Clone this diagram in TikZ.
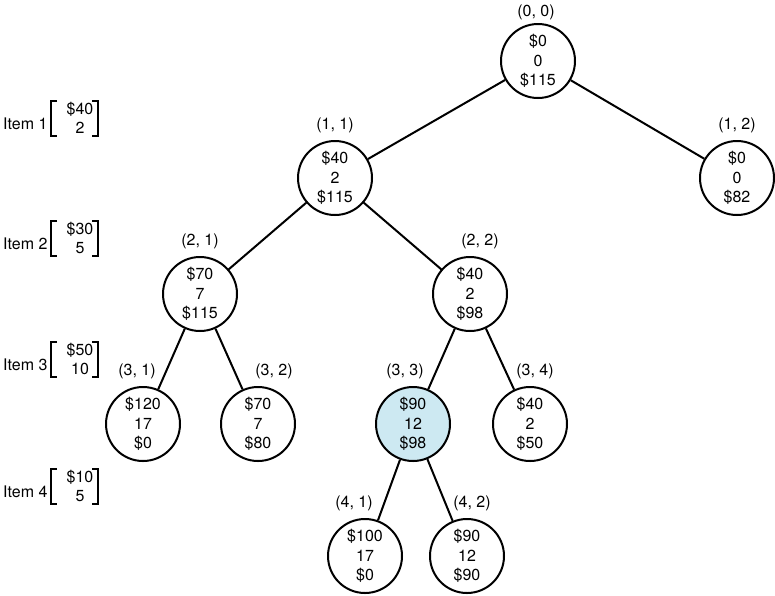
\documentclass[tikz,border=0pt]{standalone}
\usepackage{fontspec}
\setmainfont{TeX Gyre Heros}
\usetikzlibrary{positioning}
\definecolor{col1}{RGB}{205,233,242}
\tikzstyle{state}=[draw, circle, line width=2pt, minimum size=74pt, inner sep=0pt, align=center]
\tikzstyle{best}=[state, fill=col1]
\tikzstyle{branch}=[draw, line width=2pt]
\tikzstyle{item}=[anchor=west, inner sep=0pt]
\tikzstyle{val}=[inner sep=0pt, align=center]
\tikzstyle{brkbox}=[inner sep=0pt, outer sep=0pt, minimum width=47pt, minimum height=35pt]
\tikzstyle{brk}=[draw, line width=1.2pt]

\begin{document}
\begin{tikzpicture}[x=1pt,y=-1pt,on grid,font=\fontsize{16}{19.5}\selectfont,label distance=6.5pt,every label/.style={inner sep=0pt}]
		    \useasboundingbox (0,0) rectangle (775,595);
		    % tree
		    \node [state,label={[xshift=-2pt,label distance=2.5pt]above:{(0, 0)}}] (a) at (538,61) {\$0\\0\\\$115};
		    \node [state,label={above:{(1, 1)}}] (b) [below left=117pt and 203pt of a] {\$40\\2\\\$115};
		    \node [state,label={above:{(1, 2)}}] (c) [below right=117pt and 199pt of a] {\$0\\0\\\$82};
		    \node [state,label={above:{(2, 1)}}] (d) [below left=116pt and 135pt of b] {\$70\\7\\\$115};
		    \node [state,label={[xshift=10pt]above:{(2, 2)}}] (e) [below right=116pt and 135pt of b] {\$40\\2\\\$98};
		    \node [state,label={[xshift=-6pt]above:{(3, 1)}}] (f) [below left=130pt and 57pt of d] {\$120\\17\\\$0};
		    \node [state,label={[xshift=16pt]above:{(3, 2)}}] (g) [below right=130pt and 58pt of d] {\$70\\7\\\$80};
		    \node [best,label={[xshift=-8pt]above:{(3, 3)}}] (h) [below left=130pt and 57pt of e] {\$90\\12\\\$98};
		    \node [state,label={[xshift=5pt]above:{(3, 4)}}] (i) [below right=130pt and 60pt of e] {\$40\\2\\\$50};
		    \node [state,label={[xshift=-11pt]above:{(4, 1)}}] (j) [below left=132pt and 48pt of h] {\$100\\17\\\$0};
		    \node [state,label={[xshift=5pt]above:{(4, 2)}}] (k) [below right=132pt and 54pt of h] {\$90\\12\\\$90};
		    \path[branch]
		    (a) edge (b)
		    (a) edge (c)
		    (b) edge (d)
		    (b) edge (e)
		    (d) edge (f)
		    (d) edge (g)
		    (e) edge (h)
		    (e) edge (i)
		    (h) edge (j)
		    (h) edge (k);
		    % items
		    \node [item] (t1) at (3,123.5) {Item 1};
		    \node [val] (v1) at (80,118) {\$40\\2};
		    \node [brkbox] (k1) at (74.5,118.5) {};
		    \node [item] (t2) at (3,243.5) {Item 2};
		    \node [val] (v2) at (80,238) {\$30\\5};
		    \node [brkbox] (k2) at (74.5,238.5) {};
		    \node [item] (t3) at (3,364.5) {Item 3};
		    \node [val] (v3) at (80,359) {\$50\\10};
		    \node [brkbox] (k3) at (74.5,359.5) {};
		    \node [item] (t4) at (3,491.5) {Item 4};
		    \node [val] (v4) at (80,486) {\$10\\5};
		    \node [brkbox] (k4) at (74.5,486.5) {};
		    \draw [brk] ([xshift=6pt]k1.north west) -- (k1.north west) -- (k1.south west) -- ([xshift=6pt]k1.south west);
		    \draw [brk] ([xshift=-6pt]k1.north east) -- (k1.north east) -- (k1.south east) -- ([xshift=-6pt]k1.south east);
		    \draw [brk] ([xshift=6pt]k2.north west) -- (k2.north west) -- (k2.south west) -- ([xshift=6pt]k2.south west);
		    \draw [brk] ([xshift=-6pt]k2.north east) -- (k2.north east) -- (k2.south east) -- ([xshift=-6pt]k2.south east);
		    \draw [brk] ([xshift=6pt]k3.north west) -- (k3.north west) -- (k3.south west) -- ([xshift=6pt]k3.south west);
		    \draw [brk] ([xshift=-6pt]k3.north east) -- (k3.north east) -- (k3.south east) -- ([xshift=-6pt]k3.south east);
		    \draw [brk] ([xshift=6pt]k4.north west) -- (k4.north west) -- (k4.south west) -- ([xshift=6pt]k4.south west);
		    \draw [brk] ([xshift=-6pt]k4.north east) -- (k4.north east) -- (k4.south east) -- ([xshift=-6pt]k4.south east);
		\end{tikzpicture}
\end{document}
